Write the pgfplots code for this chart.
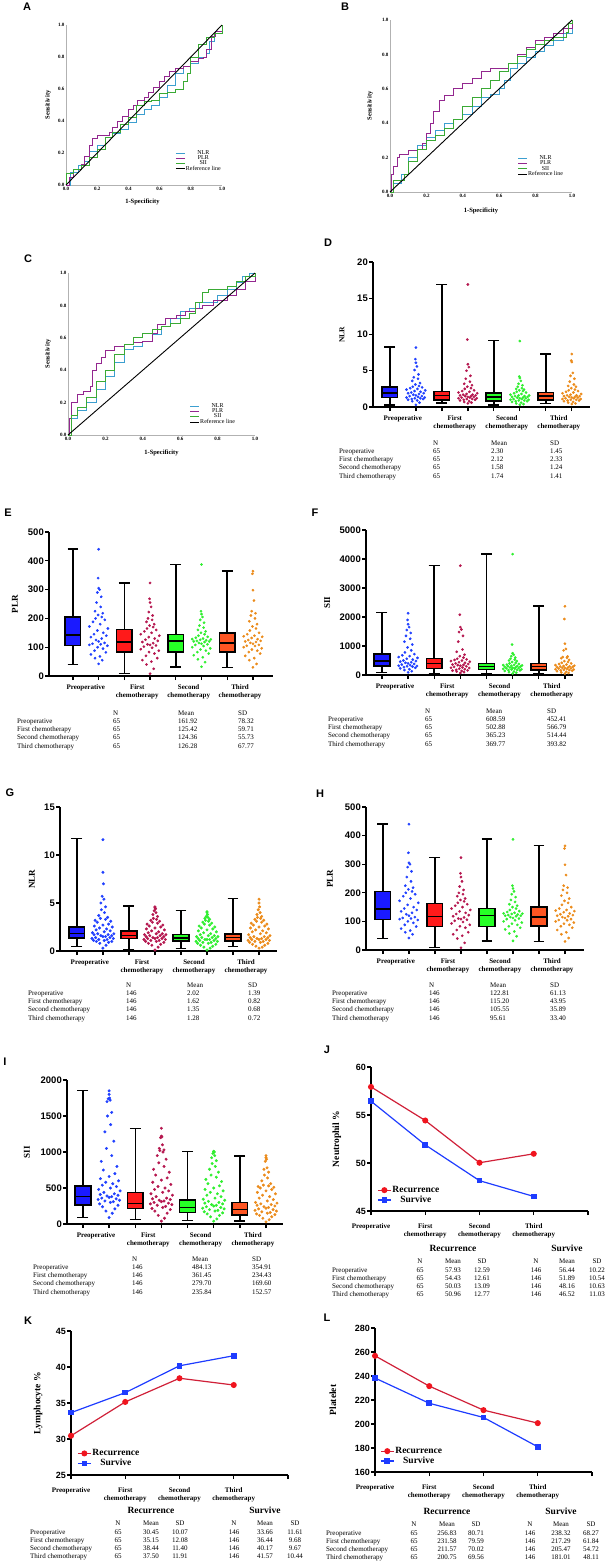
\documentclass[border=0pt]{standalone}
\usepackage{fontspec}
\setmainfont{Liberation Serif}
\setsansfont{Liberation Sans}
\usepackage{pgfplots}
\usepackage{pgfplotstable}
\pgfplotsset{compat=1.18}
\usepgfplotslibrary{statistics}

\definecolor{bxB}{HTML}{1A1AFF}
\definecolor{bxR}{HTML}{FF1A1A}
\definecolor{bxG}{HTML}{26FF26}
\definecolor{bxO}{HTML}{FF5522}
\definecolor{dtB}{HTML}{2040FF}
\definecolor{dtR}{HTML}{B5174F}
\definecolor{dtG}{HTML}{30EE30}
\definecolor{dtO}{HTML}{EB8B1B}
\definecolor{rocN}{HTML}{3C9FD0}
\definecolor{rocP}{HTML}{93278F}
\definecolor{rocS}{HTML}{3AAA35}
\definecolor{lnR}{HTML}{D02038}
\definecolor{mkR}{HTML}{F0141E}
\definecolor{lnB}{HTML}{1E3CFF}

% scatter columns: j = sideways offset, a..d = the four time points
\pgfplotstableread{
j a b c d
0.00 0.3 0.5 0.3 0.4
0.14 0.6 0.6 0.4 0.5
-0.14 0.8 0.7 0.5 0.6
0.05 0.9 0.8 0.6 0.7
-0.30 1.0 0.9 0.7 0.8
0.28 1.1 1.0 0.8 0.9
-0.16 1.1 1.0 0.8 0.9
0.17 1.2 1.1 0.9 1.0
-0.04 1.2 1.1 0.9 1.0
0.34 1.3 1.2 1.0 1.1
-0.36 1.3 1.2 1.0 1.1
0.08 1.4 1.3 1.1 1.2
-0.24 1.5 1.3 1.1 1.2
0.23 1.5 1.4 1.2 1.3
0.00 1.6 1.4 1.2 1.3
-0.10 1.7 1.5 1.3 1.4
0.12 1.8 1.5 1.3 1.4
-0.30 1.9 1.6 1.4 1.5
0.30 1.9 1.6 1.4 1.5
-0.18 2.0 1.7 1.5 1.6
0.18 2.1 1.7 1.5 1.6
-0.05 2.2 1.8 1.6 1.7
0.36 2.3 1.9 1.6 1.8
-0.36 2.4 2.0 1.7 1.9
0.06 2.5 2.1 1.8 2.0
-0.22 2.6 2.2 1.9 2.1
0.24 2.7 2.3 2.0 2.2
-0.12 2.8 2.5 2.1 2.3
0.12 2.9 2.6 2.2 2.4
-0.02 3.1 2.8 2.3 2.6
0.16 3.3 3.0 2.4 2.8
-0.14 3.6 3.2 2.5 2.9
0.08 3.9 3.5 2.6 3.1
-0.08 4.1 3.9 2.8 3.5
0.10 4.5 4.3 3.0 3.9
-0.05 5.1 5.0 3.2 4.3
0.04 5.6 5.5 3.6 4.7
0.00 6.1 5.9 4.0 6.2
-0.02 6.6 9.3 4.2 6.4
0.00 8.2 16.9 9.1 7.3
}\tabD

\pgfplotstableread{
j a b c d
0.00 42 8 32 30
0.14 55 25 48 42
-0.14 62 40 58 55
0.05 68 50 65 62
-0.30 75 55 72 70
0.28 82 62 78 78
-0.16 88 70 83 83
0.17 95 78 88 88
-0.04 100 83 92 92
0.34 105 88 96 96
-0.36 108 93 100 100
0.08 110 98 104 104
-0.24 112 102 108 105
0.23 115 106 110 108
0.00 120 108 112 112
-0.10 125 110 115 115
0.12 130 114 118 118
-0.30 135 118 120 120
0.30 140 122 120 122
-0.18 145 126 122 125
0.18 150 130 124 128
-0.05 158 135 126 132
0.36 165 140 127 136
-0.36 172 145 128 138
0.06 180 150 130 140
-0.22 188 155 133 145
0.24 195 160 136 150
-0.12 200 165 140 158
0.12 205 170 145 165
-0.02 212 175 150 172
0.16 218 180 155 180
-0.14 225 188 160 190
0.08 240 195 168 200
-0.08 255 200 175 210
0.10 275 210 185 218
-0.05 290 222 195 225
0.04 300 240 205 262
0.00 305 255 215 298
-0.02 340 268 225 355
0.00 440 323 387 364
}\tabE

\pgfplotstableread{
j a b c d
0.00 90 70 50 50
0.14 130 100 80 70
-0.14 170 120 100 90
0.05 200 140 120 110
-0.30 230 150 140 130
0.28 250 160 160 150
-0.16 270 180 170 160
0.17 290 200 180 170
-0.04 300 220 190 180
0.34 310 240 200 190
-0.36 320 250 210 200
0.08 340 260 220 210
-0.24 360 280 230 220
0.23 380 300 240 230
0.00 400 320 250 240
-0.10 420 340 260 250
0.12 440 350 270 260
-0.30 460 360 280 270
0.30 480 380 290 280
-0.18 500 400 300 290
0.18 530 420 310 300
-0.05 560 440 320 310
0.36 590 460 330 320
-0.36 620 480 340 340
0.06 650 500 350 360
-0.22 680 520 360 380
0.24 720 540 380 400
-0.12 780 560 400 420
0.12 850 600 420 450
-0.02 950 650 450 480
0.16 1050 700 480 520
-0.14 1150 800 500 580
0.08 1250 880 530 600
-0.08 1350 1150 560 620
0.10 1450 1350 600 640
-0.05 1550 1480 650 850
0.04 1650 1570 700 900
0.00 1750 1650 750 1080
-0.02 1900 2080 1050 1930
0.00 2130 3770 4170 2370
}\tabF

\pgfplotstableread{
j a b c d
0.00 0.3 0.1 0.1 0.3
0.12 0.6 0.4 0.3 0.4
-0.12 0.8 0.6 0.4 0.5
0.22 0.9 0.7 0.5 0.6
-0.25 1.0 0.8 0.6 0.7
0.34 1.0 0.9 0.7 0.8
-0.36 1.1 1.0 0.8 0.9
0.05 1.1 1.0 0.8 0.9
0.16 1.2 1.1 0.9 1.0
-0.16 1.2 1.1 0.9 1.0
0.40 1.3 1.2 1.0 1.1
-0.42 1.3 1.2 1.0 1.1
0.27 1.4 1.3 1.1 1.2
-0.28 1.4 1.3 1.1 1.2
0.00 1.5 1.3 1.2 1.2
0.10 1.5 1.4 1.2 1.3
-0.08 1.6 1.4 1.2 1.3
0.34 1.6 1.5 1.3 1.4
-0.34 1.7 1.5 1.3 1.4
0.20 1.7 1.6 1.4 1.5
-0.20 1.8 1.6 1.4 1.5
0.42 1.8 1.7 1.5 1.6
-0.40 1.9 1.7 1.5 1.7
0.05 2.0 1.8 1.6 1.8
0.28 2.1 1.8 1.6 1.9
-0.26 2.2 1.9 1.7 2.0
0.14 2.3 2.0 1.8 2.1
-0.13 2.4 2.1 1.9 2.2
0.36 2.5 2.2 2.0 2.3
-0.33 2.6 2.3 2.1 2.4
0.00 2.7 2.4 2.2 2.5
0.22 2.8 2.5 2.3 2.6
-0.22 3.0 2.6 2.4 2.7
0.30 3.1 2.7 2.5 2.8
-0.30 3.2 2.8 2.6 2.9
0.10 3.3 2.9 2.7 3.0
-0.10 3.4 3.0 2.8 3.1
0.18 3.5 3.1 2.9 3.2
-0.16 3.7 3.2 3.0 3.3
0.06 4.0 3.3 3.1 3.4
-0.06 4.3 3.4 3.2 3.5
0.10 4.6 3.6 3.3 3.6
-0.08 5.0 3.8 3.4 3.8
0.04 5.4 4.0 3.5 4.0
-0.03 5.7 4.2 3.6 4.3
0.02 7.0 4.4 3.8 4.6
0.00 8.2 4.5 4.0 5.0
0.00 11.6 4.6 4.1 5.4
}\tabG

\pgfplotstableread{
j a b c d
0.00 90 40 40 30
0.12 150 80 70 60
-0.12 180 120 100 80
0.22 210 150 120 100
-0.25 240 180 140 120
0.34 260 200 155 130
-0.36 280 215 170 140
0.05 300 230 180 150
0.16 310 245 190 160
-0.16 320 260 200 170
0.40 330 270 210 180
-0.42 340 280 220 190
0.27 350 290 230 200
-0.28 360 300 240 210
0.00 370 310 250 220
0.10 380 320 260 230
-0.08 390 330 270 240
0.34 400 340 280 250
-0.34 410 350 290 260
0.20 420 360 300 270
-0.20 440 380 315 280
0.42 460 400 330 290
-0.40 480 420 345 300
0.05 500 440 360 320
0.28 520 460 380 340
-0.26 540 480 400 360
0.14 560 500 420 380
-0.13 580 520 440 400
0.36 600 550 460 420
-0.33 630 580 480 440
0.00 660 610 500 460
0.22 700 640 530 480
-0.22 750 680 560 500
0.30 800 720 590 510
-0.30 870 760 620 520
0.10 950 800 650 530
-0.10 1050 850 680 540
0.18 1150 900 720 560
-0.16 1280 950 760 600
0.06 1380 1000 800 640
-0.06 1500 1020 840 680
0.10 1550 1030 880 720
-0.08 1700 1050 920 760
0.04 1720 1100 950 780
-0.03 1740 1200 980 870
0.02 1750 1210 1000 900
0.00 1800 1220 1005 920
0.00 1850 1330 1010 950
}\tabI

\pgfplotsset{
  rocax/.style={scale only axis, anchor=south west, clip=false,
    xmin=0, xmax=1, ymin=0, ymax=1, axis lines=left,
    axis line style={-, draw=gray!60, line width=0.6pt},
    xtick={0,0.2,0.4,0.6,0.8,1}, ytick={0,0.2,0.4,0.6,0.8,1}, major tick length=0pt,
    tick label style={font=\bfseries\fontsize{5}{5}\selectfont, inner sep=1.5pt},
    /pgf/number format/fixed, /pgf/number format/fixed zerofill,
    /pgf/number format/precision=1, /pgf/number format/assume math mode=true,
    xlabel={1-Specificity}, ylabel={Sensitivity},
    label style={font=\bfseries\fontsize{6.5}{7}\selectfont},
    xlabel style={anchor=center}, ylabel style={anchor=center},
    every axis plot/.append style={line width=0.8pt},
    legend style={draw=none, fill=none, anchor=north west, inner sep=0pt,
      row sep=-1.5pt, font=\fontsize{6}{6}\selectfont, nodes={inner sep=0.6pt}},
    legend image code/.code={\draw[##1] (0pt,0pt) -- (9pt,0pt);},
  },
  catlab/.style={xticklabel style={font=\bfseries\fontsize{7}{8}\selectfont,
      align=center, anchor=north, inner sep=0pt, yshift=-8pt}},
  % box charts: the eight slots sit at x = 100, 200, ..., 800
  boxax/.style={scale only axis, anchor=south west, clip=false,
    axis lines=left, axis line style={-, line width=1.3pt},
    tick style={black, line width=1.3pt}, tick align=outside, major tick length=4pt,
    enlargelimits=false, ymin=0, scaled ticks=false,
    boxplot/draw direction=y,
    xtick={100,200,300,400,500,600,700,800}, xticklabels={,,,,,,,},
    extra x ticks={150,350,550,750},
    extra x tick labels={Preoperative,{First\\chemotherapy},{Second\\chemotherapy},{Third\\chemotherapy}},
    extra x tick style={major tick length=0pt}, catlab,
    yticklabel style={font=\sffamily\bfseries\fontsize{9.5}{10}\selectfont, inner sep=1pt},
    /pgf/number format/1000 sep={}, /pgf/number format/assume math mode=true,
    ylabel style={font=\bfseries\fontsize{9}{9}\selectfont, anchor=center},
  },
  lnax/.style={scale only axis, anchor=south west, clip=false,
    axis lines=left, axis line style={-, line width=1.2pt},
    tick style={black, line width=1.2pt}, tick align=outside, major tick length=4pt,
    enlargelimits=false, xmin=0, xmax=4, xtick={0,1,2,3,4},
    xticklabels={Preoperative,{First\\chemotherapy},{Second\\chemotherapy},{Third\\chemotherapy},{}},
    catlab,
    yticklabel style={font=\sffamily\bfseries\fontsize{9}{10}\selectfont, inner sep=1pt},
    /pgf/number format/assume math mode=true,
    ylabel style={font=\bfseries\fontsize{9.5}{10}\selectfont, anchor=center},
    legend style={draw=none, fill=none, anchor=north west, inner sep=0pt, row sep=0pt,
      font=\bfseries\fontsize{9.5}{10}\selectfont, nodes={inner sep=1pt}},
    legend image code/.code={\draw[mark repeat=2, mark phase=2, ##1]
      plot coordinates {(0pt,0pt) (6.5pt,0pt) (13pt,0pt)};},
  },
  ylabx/.style={ylabel style={at={(axis description cs:#1,0.5)}}},
  rec/.style={lnR, line width=1.2pt, mark=*, mark size=2.4pt, mark options={fill=mkR, draw=mkR}},
  sur/.style={lnB, line width=1.2pt, mark=square*, mark size=2.2pt, mark options={fill=lnB, draw=lnB}},
}

\newcommand\bxp[7]{\addplot[boxplot prepared={draw position=#1, lower whisker=#2,
  lower quartile=#3, median=#4, upper quartile=#5, upper whisker=#6,
  box extend=60, whisker extend=42}, draw=black, fill=#7, line width=1.5pt] coordinates {};}
% swarm: [mark size] table, slot, column, colour
\newcommand\swarm[5][1.15pt]{\addplot[only marks, mark=*, mark size=#1, color=#5]
  table[x expr=100*\thisrow{j}+#3, y=#4] {#2};}

\tikzset{
  tb/.style={inner sep=0pt, anchor=base west, font=\fontsize{7}{8}\selectfont},
  tbc/.style={inner sep=0pt, anchor=base, font=\fontsize{7}{8}\selectfont},
  grp/.style={inner sep=0pt, font=\bfseries\fontsize{9.5}{10}\selectfont},
  lett/.style={inner sep=0pt, font=\sffamily\bfseries\fontsize{11}{12}\selectfont},
}
\newcommand\rowlab[1]{\ifcase#1\or Preoperative\or First chemotherapy\or Second chemotherapy\or Third chemotherapy\fi}
% one-group table: x label, x N, x Mean, x SD, y header, rows
\newcommand\stabA[6]{%
  \foreach \x/\t in {#2/N,#3/Mean,#4/SD}
    \node[tb] at ({\x pt},{-(#5pt+2.3pt)}) {\t};
  \foreach \na/\ma/\sa [count=\i] in {#6} {
    \node[tb] at ({#1pt},{-(#5pt+2.3pt+8.2pt*\i)}) {\rowlab{\i}};
    \node[tb] at ({#2pt},{-(#5pt+2.3pt+8.2pt*\i)}) {\na};
    \node[tb] at ({#3pt},{-(#5pt+2.3pt+8.2pt*\i)}) {\ma};
    \node[tb] at ({#4pt},{-(#5pt+2.3pt+8.2pt*\i)}) {\sa};
  }}
% two-group table: x label, y group title, rows
\newcommand\stabB[3]{%
  \node[grp] at ({#1pt+121pt},{-#2pt}) {Recurrence};
  \node[grp] at ({#1pt+235pt},{-#2pt}) {Survive};
  \foreach \dx/\t in {88/N,121/Mean,150/SD,204/N,235/Mean,265/SD}
    \node[tbc] at ({#1pt+\dx pt},{-(#2pt+15.8pt)}) {\t};
  \foreach \na/\ma/\sa/\nb/\mb/\sb [count=\i] in {#3} {
    \node[tb] at ({#1pt},{-(#2pt+15.8pt+8.2pt*\i)}) {\rowlab{\i}};
    \node[tbc] at ({#1pt+88pt},{-(#2pt+15.8pt+8.2pt*\i)}) {\na};
    \node[tbc] at ({#1pt+121pt},{-(#2pt+15.8pt+8.2pt*\i)}) {\ma};
    \node[tbc] at ({#1pt+150pt},{-(#2pt+15.8pt+8.2pt*\i)}) {\sa};
    \node[tbc] at ({#1pt+204pt},{-(#2pt+15.8pt+8.2pt*\i)}) {\nb};
    \node[tbc] at ({#1pt+235pt},{-(#2pt+15.8pt+8.2pt*\i)}) {\mb};
    \node[tbc] at ({#1pt+265pt},{-(#2pt+15.8pt+8.2pt*\i)}) {\sb};
  }}

\begin{document}
\begin{tikzpicture}
\useasboundingbox (0pt,0pt) rectangle (615pt,-1564pt);

% panel letters
\foreach \l/\x/\y in {A/27/7,B/345/7,C/28/259,D/328/243,E/8/513,F/315/513,
  G/10/793,H/320/794,I/5/1062,J/327/1050,K/28/1321,L/327/1318}
  \node[lett] at (\x pt,-\y pt) {\l};

% ---------- A ----------
\begin{axis}[rocax, at={(66pt,-185pt)}, width=156pt, height=160pt,
  ylabel style={at={(axis description cs:-0.115,0.5)}},
  xlabel style={at={(axis description cs:0.49,-0.106)}},
  legend style={at={(axis description cs:0.70,0.22)}}]
\addplot[rocN, const plot] coordinates {(0,0) (0.03,0.08) (0.08,0.12) (0.12,0.15) (0.15,0.21)
  (0.2,0.25) (0.25,0.3) (0.3,0.32) (0.35,0.35) (0.4,0.39) (0.45,0.44) (0.5,0.47) (0.55,0.5)
  (0.6,0.55) (0.65,0.62) (0.7,0.7) (0.75,0.74) (0.8,0.76) (0.85,0.8) (0.9,0.82) (0.92,0.9)
  (0.95,0.95) (1,1)};
\addplot[rocP, const plot] coordinates {(0,0) (0.02,0.05) (0.05,0.1) (0.1,0.13) (0.12,0.18)
  (0.15,0.25) (0.17,0.29) (0.2,0.31) (0.25,0.31) (0.28,0.33) (0.3,0.36) (0.33,0.4) (0.36,0.43)
  (0.4,0.47) (0.43,0.5) (0.46,0.53) (0.5,0.55) (0.53,0.58) (0.56,0.61) (0.6,0.65) (0.63,0.68)
  (0.66,0.71) (0.7,0.73) (0.75,0.74) (0.8,0.77) (0.85,0.79) (0.88,0.8) (0.9,0.85) (0.93,0.93)
  (0.96,0.96) (1,1)};
\addplot[rocS, const plot] coordinates {(0,0) (0,0.07) (0.05,0.1) (0.1,0.12) (0.15,0.17)
  (0.2,0.22) (0.25,0.3) (0.3,0.33) (0.35,0.38) (0.4,0.42) (0.45,0.5) (0.5,0.52) (0.55,0.53)
  (0.6,0.57) (0.65,0.58) (0.7,0.6) (0.75,0.65) (0.78,0.7) (0.8,0.8) (0.85,0.88) (0.9,0.92)
  (0.95,0.95) (1,1)};
\addplot[black, line width=0.9pt] coordinates {(0,0) (1,1)};
\legend{NLR,PLR,SII,Reference line}
\end{axis}

% ---------- B ----------
\begin{axis}[rocax, at={(390pt,-192pt)}, width=182pt, height=172pt,
  ylabel style={at={(axis description cs:-0.11,0.5)}},
  xlabel style={at={(axis description cs:0.5,-0.11)}},
  legend style={at={(axis description cs:0.70,0.215)}}]
\addplot[rocN, const plot] coordinates {(0,0) (0.02,0.05) (0.06,0.1) (0.1,0.2) (0.15,0.27)
  (0.2,0.32) (0.25,0.36) (0.3,0.4) (0.35,0.42) (0.4,0.45) (0.45,0.5) (0.5,0.55) (0.55,0.57)
  (0.6,0.6) (0.63,0.65) (0.66,0.72) (0.7,0.75) (0.75,0.78) (0.8,0.82) (0.85,0.85) (0.9,0.88)
  (0.95,0.92) (1,1)};
\addplot[rocP, const plot] coordinates {(0,0) (0.01,0.1) (0.02,0.15) (0.04,0.2) (0.05,0.22)
  (0.1,0.24) (0.15,0.25) (0.18,0.28) (0.2,0.34) (0.22,0.4) (0.24,0.47) (0.27,0.53) (0.3,0.56)
  (0.35,0.6) (0.4,0.63) (0.45,0.66) (0.5,0.7) (0.55,0.72) (0.6,0.72) (0.65,0.75) (0.7,0.8)
  (0.75,0.84) (0.8,0.88) (0.85,0.9) (0.9,0.92) (0.95,0.95) (1,1)};
\addplot[rocS, const plot] coordinates {(0,0) (0.02,0.07) (0.08,0.1) (0.1,0.18) (0.15,0.25)
  (0.2,0.3) (0.25,0.33) (0.3,0.37) (0.35,0.42) (0.4,0.5) (0.45,0.55) (0.5,0.6) (0.55,0.65)
  (0.6,0.7) (0.65,0.75) (0.7,0.79) (0.75,0.83) (0.8,0.86) (0.85,0.88) (0.9,0.9) (0.97,0.93)
  (0.98,0.98) (1,1)};
\addplot[black, line width=0.9pt] coordinates {(0,0) (1,1)};
\legend{NLR,PLR,SII,Reference line}
\end{axis}

% ---------- C ----------
\begin{axis}[rocax, at={(68pt,-435pt)}, width=187pt, height=162pt,
  ylabel style={at={(axis description cs:-0.107,0.5)}},
  xlabel style={at={(axis description cs:0.5,-0.111)}},
  legend style={at={(axis description cs:0.65,0.198)}}]
\addplot[rocN, const plot] coordinates {(0,0) (0.02,0.1) (0.05,0.15) (0.1,0.2) (0.15,0.28)
  (0.2,0.36) (0.25,0.45) (0.3,0.53) (0.35,0.55) (0.4,0.58) (0.45,0.62) (0.5,0.67) (0.55,0.72)
  (0.6,0.76) (0.65,0.78) (0.7,0.82) (0.8,0.86) (0.85,0.9) (0.9,0.94) (0.93,0.98) (0.97,1) (1,1)};
\addplot[rocP, const plot] coordinates {(0,0) (0.01,0.1) (0.02,0.2) (0.05,0.25) (0.08,0.27)
  (0.12,0.3) (0.13,0.4) (0.15,0.44) (0.18,0.48) (0.2,0.52) (0.25,0.55) (0.3,0.56) (0.35,0.57)
  (0.4,0.58) (0.45,0.63) (0.48,0.68) (0.52,0.72) (0.58,0.74) (0.63,0.76) (0.68,0.78) (0.72,0.8)
  (0.78,0.83) (0.85,0.86) (0.9,0.9) (0.95,0.95) (1,1)};
\addplot[rocS, const plot] coordinates {(0,0) (0.02,0.12) (0.05,0.17) (0.1,0.23) (0.15,0.33)
  (0.2,0.4) (0.25,0.5) (0.3,0.56) (0.35,0.6) (0.4,0.63) (0.45,0.65) (0.5,0.67) (0.55,0.69)
  (0.6,0.72) (0.65,0.75) (0.68,0.82) (0.72,0.88) (0.75,0.9) (0.8,0.9) (0.85,0.92) (0.9,0.95)
  (0.95,0.98) (1,1)};
\addplot[black, line width=0.9pt] coordinates {(0,0) (1,1)};
\legend{NLR,PLR,SII,Reference line}
\end{axis}

% ---------- D ----------
\begin{axis}[boxax, at={(373pt,-407pt)}, width=217pt, height=145pt,
  xmin=35, xmax=870, ymax=20, ytick={0,5,10,15,20}, ylabel={NLR}, ylabx=-0.143,
  ylabel style={font=\bfseries\fontsize{7.5}{8}\selectfont}]
\bxp{100}{0.3}{1.3}{1.95}{2.75}{8.25}{bxB}
\bxp{300}{0.55}{1.0}{1.6}{2.15}{16.9}{bxR}
\bxp{500}{0.3}{0.85}{1.4}{1.95}{9.15}{bxG}
\bxp{700}{0.45}{0.95}{1.5}{2.0}{7.3}{bxO}
\swarm{\tabD}{200}{a}{dtB}
\swarm{\tabD}{400}{b}{dtR}
\swarm{\tabD}{600}{c}{dtG}
\swarm{\tabD}{800}{d}{dtO}
\end{axis}
\stabA{339}{433}{491}{550}{443}{65/2.30/1.45, 65/2.12/2.33, 65/1.58/1.24, 65/1.74/1.41}

% ---------- E ----------
\begin{axis}[boxax, at={(49pt,-676pt)}, width=224pt, height=144pt,
  xmin=7, xmax=878, ymax=500, ytick={0,100,200,300,400,500}, ylabel={PLR}, ylabx=-0.152]
\bxp{100}{40}{106}{143}{205}{441}{bxB}
\bxp{300}{8}{83}{118}{162}{323}{bxR}
\bxp{500}{31}{83}{121}{145}{388}{bxG}
\bxp{700}{29}{84}{115}{150}{365}{bxO}
\swarm{\tabE}{200}{a}{dtB}
\swarm{\tabE}{400}{b}{dtR}
\swarm{\tabE}{600}{c}{dtG}
\swarm{\tabE}{800}{d}{dtO}
\end{axis}
\stabA{17}{113}{178}{238}{713}{65/161.92/78.32, 65/125.42/59.71, 65/124.36/55.73, 65/126.28/67.77}

% ---------- F ----------
\begin{axis}[boxax, at={(366pt,-675pt)}, width=207pt, height=145pt,
  xmin=39, xmax=831, ymax=5000, ytick={0,1000,2000,3000,4000,5000}, ylabel={SII}, ylabx=-0.188]
\bxp{100}{92}{310}{480}{724}{2149}{bxB}
\bxp{300}{57}{230}{400}{575}{3782}{bxR}
\bxp{500}{34}{195}{300}{402}{4172}{bxG}
\bxp{700}{46}{172}{300}{402}{2379}{bxO}
\swarm{\tabF}{200}{a}{dtB}
\swarm{\tabF}{400}{b}{dtR}
\swarm{\tabF}{600}{c}{dtG}
\swarm{\tabF}{800}{d}{dtO}
\end{axis}
\stabA{328}{425}{486}{547}{711}{65/608.59/452.41, 65/502.88/566.79, 65/365.23/514.44, 65/369.77/393.82}

% ---------- G ----------
\begin{axis}[boxax, at={(60pt,-951pt)}, width=217pt, height=144pt,
  xmin=35, xmax=869, ymax=15, ytick={0,5,10,15}, ylabel={NLR}, ylabx=-0.129]
\bxp{100}{0.45}{1.38}{1.8}{2.48}{11.7}{bxB}
\bxp{300}{0.17}{1.28}{1.6}{2.07}{4.7}{bxR}
\bxp{500}{0.24}{1.03}{1.35}{1.72}{4.2}{bxG}
\bxp{700}{0.45}{1.03}{1.4}{1.79}{5.45}{bxO}
\swarm[1.3pt]{\tabG}{200}{a}{dtB}
\swarm[1.3pt]{\tabG}{400}{b}{dtR}
\swarm[1.3pt]{\tabG}{600}{c}{dtG}
\swarm[1.3pt]{\tabG}{800}{d}{dtO}
\end{axis}
\stabA{28}{126}{187}{248}{985}{146/2.02/1.39, 146/1.62/0.82, 146/1.35/0.68, 146/1.28/0.72}

% ---------- H ----------
\begin{axis}[boxax, at={(366pt,-950pt)}, width=218pt, height=143pt,
  xmin=35, xmax=873, ymax=500, ytick={0,100,200,300,400,500}, ylabel={PLR}, ylabx=-0.165]
\bxp{100}{40}{106}{143}{205}{441}{bxB}
\bxp{300}{8}{83}{118}{162}{323}{bxR}
\bxp{500}{31}{83}{121}{145}{388}{bxG}
\bxp{700}{29}{84}{115}{150}{365}{bxO}
\swarm{\tabE}{200}{a}{dtB}
\swarm{\tabE}{400}{b}{dtR}
\swarm{\tabE}{600}{c}{dtG}
\swarm{\tabE}{800}{d}{dtO}
\end{axis}
\stabA{332}{429}{490}{550}{985}{146/122.81/61.13, 146/115.20/43.95, 146/105.55/35.89, 146/95.61/33.40}

% ---------- I ----------
\begin{axis}[boxax, at={(67pt,-1224pt)}, width=216pt, height=144pt,
  xmin=39, xmax=865, ymax=2000, ytick={0,500,1000,1500,2000}, ylabel={SII}, ylabx=-0.185]
\bxp{100}{88}{264}{380}{528}{1852}{bxB}
\bxp{300}{60}{218}{287}{440}{1329}{bxR}
\bxp{500}{50}{162}{227}{333}{1005}{bxG}
\bxp{700}{40}{125}{204}{296}{944}{bxO}
\swarm[1.3pt]{\tabI}{200}{a}{dtB}
\swarm[1.3pt]{\tabI}{400}{b}{dtR}
\swarm[1.3pt]{\tabI}{600}{c}{dtG}
\swarm[1.3pt]{\tabI}{800}{d}{dtO}
\end{axis}
\stabA{33}{132}{192}{252}{1259}{146/484.13/354.91, 146/361.45/234.43, 146/279.70/169.60, 146/235.84/152.57}

% ---------- J ----------
\begin{axis}[lnax, at={(371pt,-1211pt)}, width=217pt, height=144pt,
  ymin=45, ymax=60, ytick={45,50,55,60}, ylabel={Neutrophil \%}, ylabx=-0.157,
  legend style={at={(axis description cs:0.028,0.18)}}]
\addplot[rec] coordinates {(0,57.93) (1,54.43) (2,50.03) (3,50.96)};
\addplot[sur] coordinates {(0,56.44) (1,51.89) (2,48.16) (3,46.52)};
\legend{Recurrence,Survive}
\end{axis}
\stabB{332}{1248}{65/57.93/12.59/146/56.44/10.22, 65/54.43/12.61/146/51.89/10.54,
  65/50.03/13.09/146/48.16/10.63, 65/50.96/12.77/146/46.52/11.03}

% ---------- K ----------
\begin{axis}[lnax, at={(71pt,-1475pt)}, width=217pt, height=144pt,
  ymin=25, ymax=45, ytick={25,30,35,40,45}, ylabel={Lymphocyte \%}, ylabx=-0.152,
  legend style={at={(axis description cs:0.028,0.185)}}]
\addplot[rec] coordinates {(0,30.45) (1,35.15) (2,38.44) (3,37.50)};
\addplot[sur] coordinates {(0,33.66) (1,36.44) (2,40.17) (3,41.57)};
\legend{Recurrence,Survive}
\end{axis}
\stabB{30}{1510}{65/30.45/10.07/146/33.66/11.61, 65/35.15/12.08/146/36.44/9.68,
  65/38.44/11.40/146/40.17/9.67, 65/37.50/11.91/146/41.57/10.44}

% ---------- L ----------
\begin{axis}[lnax, at={(375pt,-1472pt)}, width=217pt, height=144pt,
  ymin=160, ymax=280, ytick={160,180,200,220,240,260,280}, ylabel={Platelet}, ylabx=-0.194,
  legend style={at={(axis description cs:0.023,0.18)}}]
\addplot[rec] coordinates {(0,256.83) (1,231.58) (2,211.57) (3,200.75)};
\addplot[sur] coordinates {(0,238.32) (1,217.29) (2,205.47) (3,181.01)};
\legend{Recurrence,Survive}
\end{axis}
\stabB{326}{1511}{65/256.83/80.71/146/238.32/68.27, 65/231.58/79.59/146/217.29/61.84,
  65/211.57/70.02/146/205.47/54.72, 65/200.75/69.56/146/181.01/48.11}

\end{tikzpicture}
\end{document}
